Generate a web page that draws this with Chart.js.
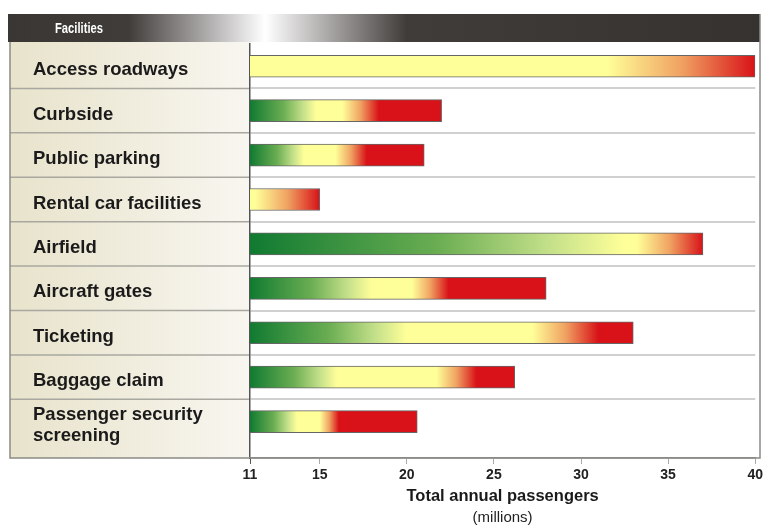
<!DOCTYPE html>
<html>
<head>
<meta charset="utf-8">
<script src="https://cdn.jsdelivr.net/npm/chart.js@4.4.1/dist/chart.umd.min.js"></script>
<style>
  html, body { margin: 0; padding: 0; background: #fff; }
  #wrap { width: 766px; height: 527px; position: relative; }
</style>
</head>
<body>
<div id="wrap"><canvas id="capacityChart"></canvas></div>
<script>
// facilities, top to bottom
const categories = [
    'Access roadways',
    'Curbside',
    'Public parking',
    'Rental car facilities',
    'Airfield',
    'Aircraft gates',
    'Ticketing',
    'Baggage claim',
    ['Passenger security', 'screening']
];
// total annual passengers (millions) where each bar ends
const totals = [40, 22, 21, 15, 37, 28, 33, 26.2, 20.6];
// where the bar turns fully yellow, leaves yellow, and becomes fully red
const yellowFrom = [11, 14.8, 14.1, 11, 32.5, 18.0, 20.0, 16.0, 13.7];
const yellowTo = [31.5, 16.3, 15.9, 11.3, 33.2, 20.3, 27.2, 21.7, 15.0];
const redFrom = [40, 18.4, 17.7, 15, 37, 22.4, 31.0, 24.0, 16.1];
const xTicks = [11, 15, 20, 25, 30, 35, 40];
const axisMin = 11;
const axisMax = 40;

const GREEN = '#107a31', MIDGREEN = '#6aad52', LIGHTGREEN = '#c4e08a';
const YELLOW = '#ffff99', ORANGE = '#f0a262', RED = '#d81218';

function barFill(c) {
    const chart = c.chart;
    const x = chart.scales.x;
    if (!chart.chartArea || !x || c.dataIndex === undefined) return YELLOW;
    const i = c.dataIndex;
    const x0 = x.getPixelForValue(axisMin);
    const x1 = x.getPixelForValue(totals[i]);
    const g = chart.ctx.createLinearGradient(x0, 0, x1, 0);
    const pos = v => Math.min(1, Math.max(0, (x.getPixelForValue(v) - x0) / (x1 - x0)));
    if (yellowFrom[i] > axisMin) {
        g.addColorStop(0, GREEN);
        g.addColorStop(pos(axisMin + (yellowFrom[i] - axisMin) * 0.5), MIDGREEN);
        g.addColorStop(pos(axisMin + (yellowFrom[i] - axisMin) * 0.8), LIGHTGREEN);
    }
    g.addColorStop(pos(yellowFrom[i]), YELLOW);
    g.addColorStop(pos(yellowTo[i]), YELLOW);
    g.addColorStop(pos((yellowTo[i] + redFrom[i]) / 2), ORANGE);
    g.addColorStop(pos(redFrom[i]), RED);
    g.addColorStop(1, RED);
    return g;
}

// header strip, label panel and frame
const framePlugin = {
    id: 'frame',
    beforeDraw(chart) {
        const ctx = chart.ctx;
        const y = chart.scales.y;
        const area = chart.chartArea;
        ctx.save();
        ctx.fillStyle = '#fff';
        ctx.fillRect(0, 0, chart.width, chart.height);

        // header
        const hg = ctx.createLinearGradient(8, 0, 760, 0);
        hg.addColorStop(0, '#3a3634');
        hg.addColorStop(0.16, '#403c3a');
        hg.addColorStop(0.342, '#ffffff');
        hg.addColorStop(0.53, '#403c3a');
        hg.addColorStop(1, '#363230');
        ctx.fillStyle = hg;
        ctx.fillRect(8, 14, 752, 28);
        ctx.save();
        ctx.translate(79, 29.5);
        ctx.scale(0.8, 1);
        ctx.fillStyle = '#fff';
        ctx.font = 'bold 14px "Liberation Sans", Arial, sans-serif';
        ctx.textAlign = 'center';
        ctx.textBaseline = 'middle';
        ctx.fillText('Facilities', 0, 0);
        ctx.restore();

        // label panel
        const pg = ctx.createLinearGradient(10, 0, area.left, 0);
        pg.addColorStop(0, '#e8e3cb');
        pg.addColorStop(1, '#f8f6f0');
        ctx.fillStyle = pg;
        ctx.fillRect(10, 42, area.left - 10, area.bottom - 42);
        ctx.strokeStyle = '#a9a8a0';
        ctx.lineWidth = 1.5;
        for (let i = 0; i < categories.length - 1; i++) {
            const py = y.getPixelForValue(i + 0.5);
            ctx.beginPath();
            ctx.moveTo(10, py);
            ctx.lineTo(area.left, py);
            ctx.stroke();
        }

        // outer frame
        ctx.strokeStyle = '#8a8a86';
        ctx.lineWidth = 1.5;
        ctx.beginPath();
        ctx.moveTo(10, 42);
        ctx.lineTo(10, area.bottom);
        ctx.lineTo(760, area.bottom);
        ctx.lineTo(760, 14);
        ctx.stroke();
        ctx.restore();
    }
};

const yTicks = [];
categories.forEach((c, i) => {
    yTicks.push(i);
    if (i < categories.length - 1) yTicks.push(i + 0.5);
});

new Chart(document.getElementById('capacityChart'), {
    type: 'bar',
    data: {
        datasets: [{
            data: totals.map((v, i) => ({ x: v, y: i })),
            backgroundColor: barFill,
            borderColor: '#666',
            borderWidth: 1,
            borderSkipped: false,
            barThickness: 22
        }]
    },
    options: {
        indexAxis: 'y',
        responsive: true,
        maintainAspectRatio: false,
        animation: false,
        layout: { padding: { left: 33, right: 9, top: 44, bottom: 0 } },
        plugins: {
            legend: { display: false },
            tooltip: { enabled: false }
        },
        scales: {
            y: {
                type: 'linear',
                reverse: true,
                offset: false,
                min: -0.5,
                max: 8.82,
                afterFit: s => { s.width = 217; },
                afterBuildTicks: s => { s.ticks = yTicks.map(v => ({ value: v })); },
                ticks: {
                    autoSkip: false,
                    crossAlign: 'far',
                    labelOffset: 4,
                    color: '#1a1a1a',
                    font: { family: '"Liberation Sans", Arial, sans-serif', size: 18.5, weight: 'bold', lineHeight: 1.15 },
                    callback: v => Number.isInteger(v) ? categories[v] : ''
                },
                grid: {
                    offset: false,
                    drawTicks: false,
                    lineWidth: 2,
                    color: c => (c.tick && Number.isInteger(c.tick.value)) ? 'rgba(0,0,0,0)' : '#d0d0d0'
                },
                border: { display: true, color: '#555', width: 1.5 }
            },
            x: {
                type: 'linear',
                position: 'bottom',
                min: axisMin,
                max: axisMax,
                afterFit: s => { s.height = 50; },
                afterBuildTicks: s => { s.ticks = xTicks.map(v => ({ value: v })); },
                ticks: {
                    padding: 3,
                    color: '#222',
                    font: { family: '"Liberation Sans", Arial, sans-serif', size: 14, weight: 'bold' }
                },
                grid: {
                    drawOnChartArea: false,
                    drawTicks: true,
                    tickLength: 6,
                    color: c => (c.tick && c.tick.value === axisMin) ? '#555' : '#aaa'
                },
                border: { display: true, color: '#8a8a86', width: 1.5 },
                title: {
                    display: true,
                    text: 'Total annual passengers',
                    color: '#1a1a1a',
                    padding: { top: 0, bottom: 2 },
                    font: { family: '"Liberation Sans", Arial, sans-serif', size: 16.5, weight: 'bold' }
                }
            },
            x2: {
                type: 'linear',
                axis: 'x',
                position: 'bottom',
                weight: 1,
                afterFit: s => { s.height = 19; },
                ticks: { display: false },
                grid: { display: false },
                border: { display: false },
                title: {
                    display: true,
                    text: '(millions)',
                    color: '#222',
                    padding: 0,
                    font: { family: '"Liberation Sans", Arial, sans-serif', size: 15 }
                }
            }
        }
    },
    plugins: [framePlugin]
});
</script>
</body>
</html>
